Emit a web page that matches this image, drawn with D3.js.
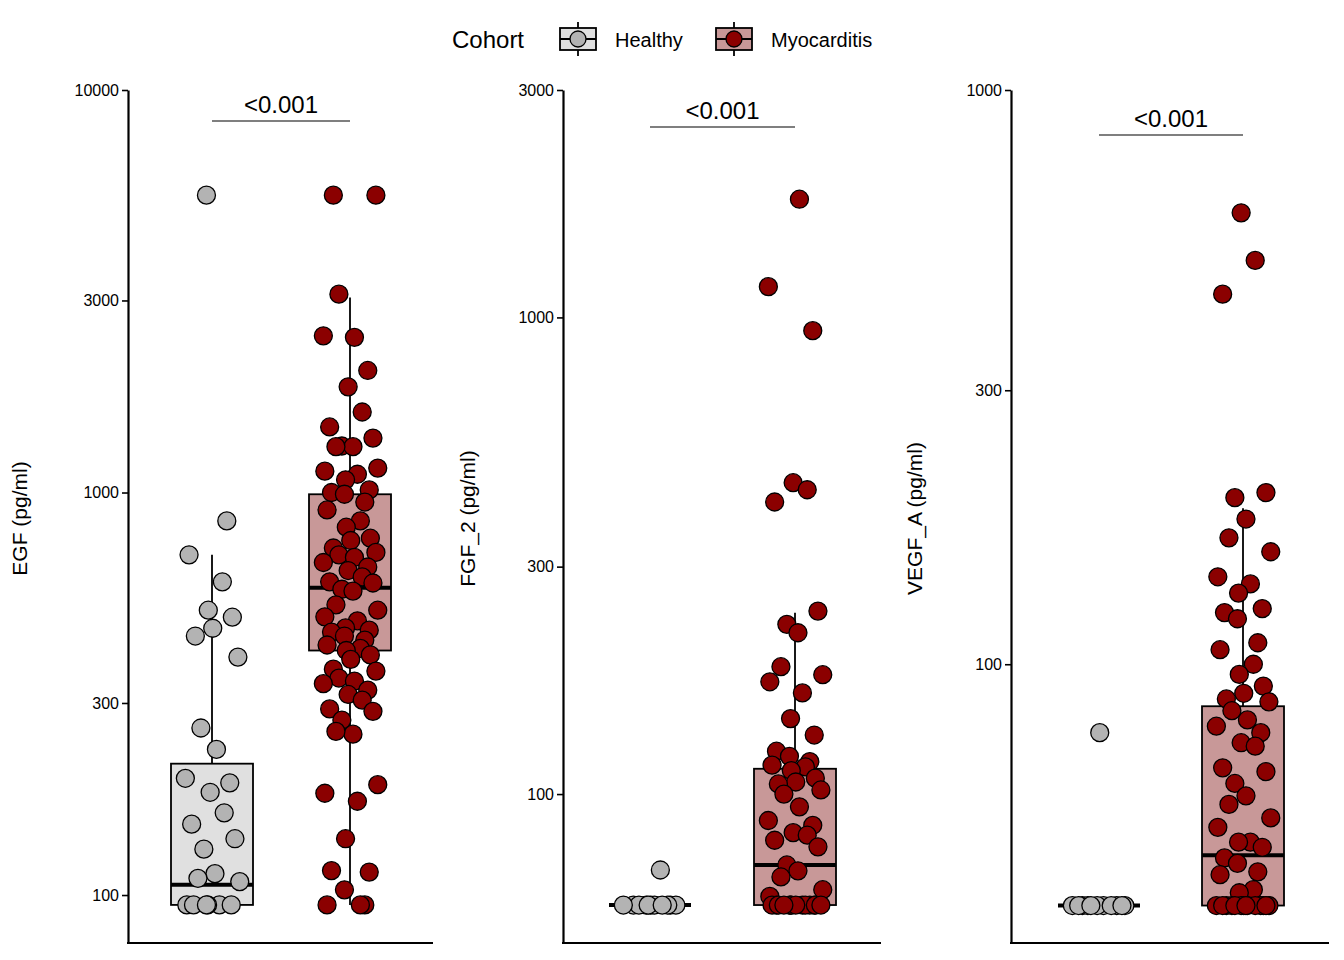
<!DOCTYPE html>
<html>
<head>
<meta charset="utf-8">
<script src="https://cdn.jsdelivr.net/npm/d3@7"></script>
<style>
  body { margin: 0; background: #fff; }
  text { font-family: "Liberation Sans", Arial, sans-serif; }
</style>
</head>
<body>
<svg id="chart" width="1344" height="960"></svg>
<script>
// ---- data ----
const cohorts = ["Healthy", "Myocarditis"];
const markers = ["EGF", "FGF_2", "VEGF_A"];
const yLabels = ["EGF (pg/ml)", "FGF_2 (pg/ml)", "VEGF_A (pg/ml)"];
const pLabels = ["<0.001", "<0.001", "<0.001"];

const egfTicks = [100, 300, 1000, 3000, 10000];
const fgfTicks = [100, 300, 1000, 3000];
const vegfTicks = [100, 300, 1000];

// box stats: [low whisker, q1, median, q3, high whisker]
const egfHealthyBox = [94.5, 94.5, 106, 212, 700];
const egfMyoBox = [94.5, 405, 580, 990, 3050];
const fgfHealthyBox = [58.5, 58.5, 58.5, 58.5, 58.5];
const fgfMyoBox = [58.5, 58.5, 71, 113, 240];
const vegfHealthyBox = [38, 38, 38, 38, 38];
const vegfMyoBox = [38, 38, 46.5, 84.5, 187];

const egfHealthy = [5480, 850, 700, 600, 510, 490, 460, 440, 390, 260, 230, 195, 190, 180,
  160, 150, 138, 130, 113, 110, 108, 94.5, 94.5, 94.5, 94.5, 94.5, 94.5];
const egfMyo = [5480, 5480, 3110, 2430, 2450, 2010, 1830, 1585, 1455, 1365, 1305, 1300, 1300,
  1150, 1130, 1110, 1075, 1015, 1000, 990, 947, 905, 850, 820, 770, 760, 728, 710, 700, 690,
  670, 653, 640, 617, 600, 596, 575, 569, 526, 510, 491, 480, 461, 455, 450, 440, 430, 418,
  410, 405, 395, 385, 364, 360, 346, 340, 335, 323, 315, 305, 290, 286, 272, 251, 255, 188,
  179, 171, 138, 114, 115, 103, 94.5, 94.5, 94.5];
const fgfHealthy = [69.3, 58.5, 58.5, 58.5, 58.5, 58.5, 58.5, 58.5, 58.5, 58.5, 58.5, 58.5];
const fgfMyo = [1770, 1160, 938, 450, 435, 410, 242, 227, 218, 185, 178, 172, 163, 144, 133,
  123, 120, 117, 115, 114, 112, 108, 106, 105, 102, 100, 94, 88, 86, 83, 82, 80, 77.5, 71,
  69, 67, 63, 61, 58.5, 58.5, 58.5, 58.5, 58.5, 58.5, 58.5, 58.5, 58.5, 58.5, 58.5, 58.5, 58.5, 58.5];
const vegfHealthy = [76, 38, 38, 38, 38, 38, 38, 38, 38, 38, 38, 38];
const vegfMyo = [611, 505, 441, 199, 195, 179, 166, 157, 142, 138, 133, 125, 123, 120, 109,
  106, 100, 96, 91.6, 89, 87, 86, 83, 80, 78, 76, 73, 72, 66, 65, 62, 59, 57, 54, 52, 49, 49,
  48, 46, 45, 43.5, 43, 40.5, 40, 38, 38, 38, 38, 38, 38, 38, 38, 38, 38, 38, 38, 38, 38];

// fixed horizontal jitter pattern (fraction of half box width)
const jitter = [-0.15, 0.4, -0.62, 0.28, -0.1, 0.55, 0.02, -0.45, 0.7, -0.3, 0.12, -0.72,
  0.48, -0.05, 0.33, -0.55, 0.62, -0.22, 0.08, -0.38, 0.75, -0.68, 0.2, -0.12, 0.52, -0.5];

// ---- layout ----
const panels = [
  { x0: 128, x1: 433, dom: [76, 10000], ticks: egfTicks, centers: [212, 350], labelX: 27, bracketY: 121,
    boxes: [egfHealthyBox, egfMyoBox], pts: [egfHealthy, egfMyo] },
  { x0: 563, x1: 881, dom: [48.7, 3000], ticks: fgfTicks, centers: [650, 795], labelX: 475, bracketY: 127,
    boxes: [fgfHealthyBox, fgfMyoBox], pts: [fgfHealthy, fgfMyo] },
  { x0: 1011, x1: 1329, dom: [32.7, 1000], ticks: vegfTicks, centers: [1099, 1243], labelX: 922, bracketY: 135,
    boxes: [vegfHealthyBox, vegfMyoBox], pts: [vegfHealthy, vegfMyo] }
];
const yTop = 90, yBottom = 943;
const boxFill = ["#e0e0e0", "#c89898"];
const ptFill = ["#b3b3b3", "#8b0000"];
const boxW = 82;

const svg = d3.select("#chart");

panels.forEach((p, pi) => {
  const y = d3.scaleLog().domain(p.dom).range([yBottom, yTop]);
  const g = svg.append("g");

  // axes
  const ax = g.append("g").attr("transform", `translate(${p.x0},0)`)
    .call(d3.axisLeft(y).tickValues(p.ticks).tickFormat(d3.format("d")).tickSize(6).tickSizeOuter(0));
  ax.select(".domain").attr("stroke-width", 2.2);
  ax.selectAll(".tick line").attr("stroke-width", 1.6);
  ax.selectAll(".tick text").attr("font-size", 16).attr("fill", "#000")
    .attr("font-family", "Liberation Sans, Arial, sans-serif");
  g.append("line").attr("x1", p.x0 - 1).attr("x2", p.x1).attr("y1", yBottom).attr("y2", yBottom)
    .attr("stroke", "#000").attr("stroke-width", 2.2);

  g.append("text").attr("transform", `translate(${p.labelX},${(yTop + yBottom) / 2 + 2}) rotate(-90)`)
    .attr("text-anchor", "middle").attr("font-size", 21).text(yLabels[pi]);

  // boxes
  p.boxes.forEach((b, ci) => {
    const cx = p.centers[ci];
    g.append("line").attr("x1", cx).attr("x2", cx).attr("y1", y(b[4])).attr("y2", y(b[0]))
      .attr("stroke", "#000").attr("stroke-width", 1.8);
    g.append("rect").attr("x", cx - boxW / 2).attr("width", boxW)
      .attr("y", y(b[3])).attr("height", Math.max(0, y(b[1]) - y(b[3])))
      .attr("fill", boxFill[ci]).attr("stroke", "#000").attr("stroke-width", 1.8);
    g.append("line").attr("x1", cx - boxW / 2).attr("x2", cx + boxW / 2)
      .attr("y1", y(b[2])).attr("y2", y(b[2])).attr("stroke", "#000").attr("stroke-width", 4);
  });

  // points
  p.pts.forEach((vals, ci) => {
    const cx = p.centers[ci];
    g.selectAll(null).data(vals).enter().append("circle")
      .attr("cx", (d, i) => cx + jitter[(i + ci * 7 + pi * 3) % jitter.length] * (boxW / 2 - 4))
      .attr("cy", d => y(d))
      .attr("r", 9)
      .attr("fill", ptFill[ci]).attr("stroke", "#000").attr("stroke-width", 1.3);
  });

  // significance bracket
  g.append("line").attr("x1", p.centers[0]).attr("x2", p.centers[1])
    .attr("y1", p.bracketY).attr("y2", p.bracketY).attr("stroke", "#000").attr("stroke-width", 1.2);
  g.append("text").attr("x", (p.centers[0] + p.centers[1]) / 2).attr("y", p.bracketY - 8)
    .attr("text-anchor", "middle").attr("font-size", 24).text(pLabels[pi]);
});

// legend
const lg = svg.append("g");
lg.append("text").attr("x", 452).attr("y", 48).attr("font-size", 24).text("Cohort");
const legX = [560, 716];
cohorts.forEach((c, i) => {
  const x = legX[i];
  lg.append("line").attr("x1", x + 18).attr("x2", x + 18).attr("y1", 22).attr("y2", 56)
    .attr("stroke", "#000").attr("stroke-width", 1.8);
  lg.append("rect").attr("x", x).attr("y", 28).attr("width", 36).attr("height", 22)
    .attr("fill", boxFill[i]).attr("stroke", "#000").attr("stroke-width", 1.8);
  lg.append("line").attr("x1", x).attr("x2", x + 36).attr("y1", 39).attr("y2", 39)
    .attr("stroke", "#000").attr("stroke-width", 1.8);
  lg.append("circle").attr("cx", x + 18).attr("cy", 39).attr("r", 8)
    .attr("fill", ptFill[i]).attr("stroke", "#000").attr("stroke-width", 1.3);
  lg.append("text").attr("x", x + 55).attr("y", 47).attr("font-size", 20).text(c);
});
</script>
</body>
</html>
